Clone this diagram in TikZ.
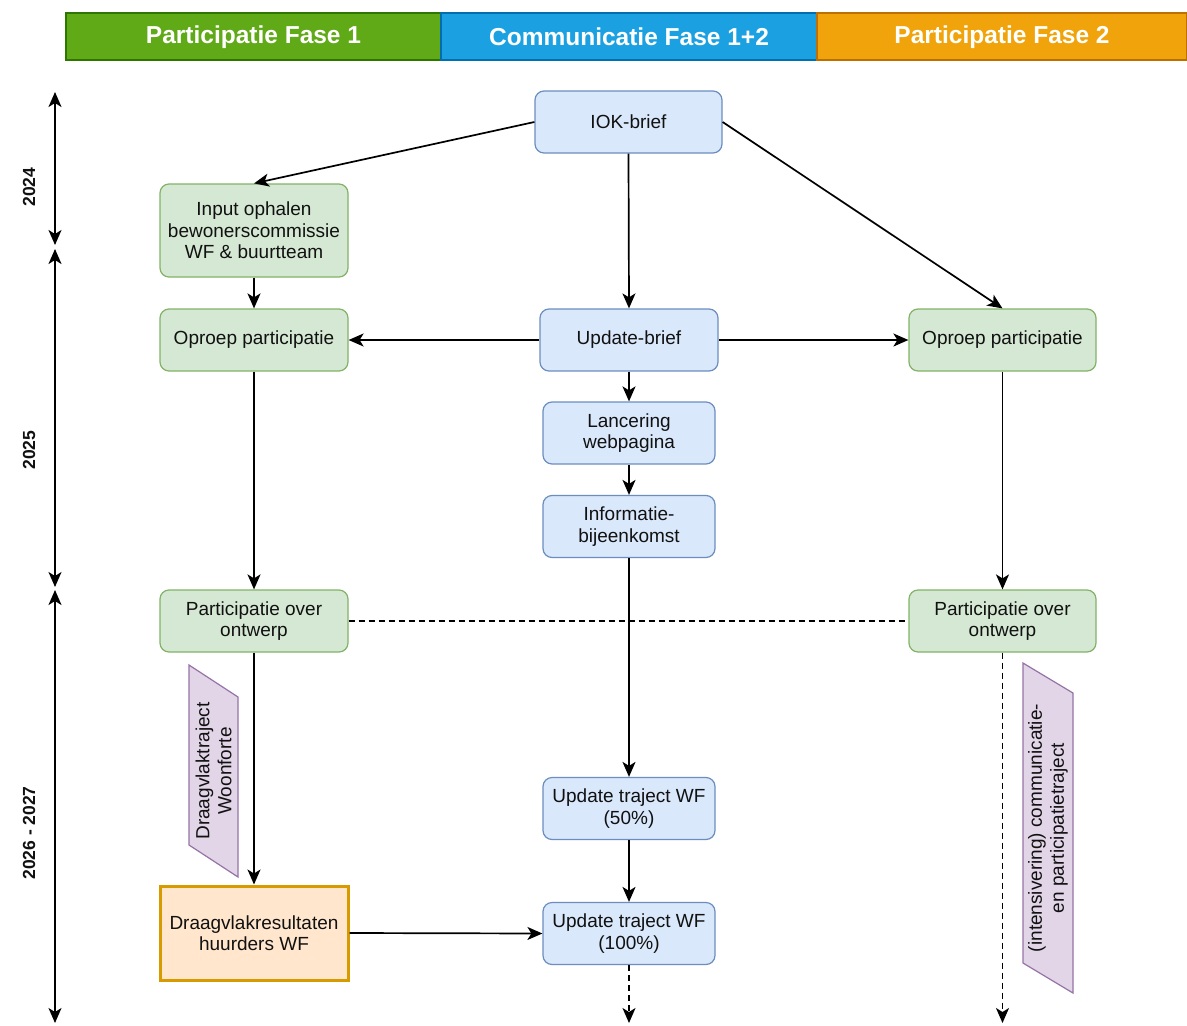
\documentclass[tikz,border=0pt]{standalone}
\usepackage{fontspec}
\setmainfont{Liberation Sans}
\usetikzlibrary{arrows.meta}
\definecolor{bfill}{HTML}{DAE8FC}
\definecolor{bdraw}{HTML}{6C8EBF}
\definecolor{gfill}{HTML}{D5E8D4}
\definecolor{gdraw}{HTML}{82B366}
\definecolor{ofill}{HTML}{FFE6CC}
\definecolor{odraw}{HTML}{D79B00}
\definecolor{pfill}{HTML}{E1D5E7}
\definecolor{pdraw}{HTML}{9673A6}
\definecolor{hgreen}{HTML}{60A917}
\definecolor{hgreenD}{HTML}{2D7600}
\definecolor{hblue}{HTML}{1BA1E2}
\definecolor{hblueD}{HTML}{006EAF}
\definecolor{horange}{HTML}{F0A30A}
\definecolor{horangeD}{HTML}{BD7000}
\definecolor{txt}{HTML}{111111}
\tikzset{
  box/.style={rounded corners=9pt, line width=1.2pt, align=center, inner sep=0pt,
    minimum height=62pt, text=txt, font=\fontsize{19}{21.5}\selectfont},
  bnode/.style={box, fill=bfill, draw=bdraw},
  gnode/.style={box, fill=gfill, draw=gdraw},
  onode/.style={box, rounded corners=0pt, fill=ofill, draw=odraw, line width=3pt},
  ppath/.style={fill=pfill, draw=pdraw, line width=1.2pt},
  ptext/.style={rotate=90, align=center, text=txt, font=\fontsize{19}{22}\selectfont, inner sep=0pt},
  hdr/.style={line width=1.2pt, text=white, font=\fontsize{24.5}{28}\bfseries\selectfont},
  arr/.style={line width=1.7pt, -{Stealth[length=15pt,width=13pt,inset=4pt]}},
  darr/.style={arr, dash pattern=on 6pt off 4pt},
  tl/.style={line width=1.7pt, {Stealth[length=15pt,width=13pt,inset=4pt]}-{Stealth[length=15pt,width=13pt,inset=4pt]}},
  yr/.style={rotate=90, font=\fontsize{17.5}{20}\bfseries\selectfont, text=txt}
}
\begin{document}
\begin{tikzpicture}[x=1pt,y=-1pt]
\useasboundingbox (0,0) rectangle (1187,1026);
\fill[white] (0,0) rectangle (1187,1026);
% header
\draw[hdr, fill=hgreen, draw=hgreenD] (66,13) rectangle (441,60);
\draw[hdr, fill=hblue, draw=hblueD] (441,13) rectangle (817,60);
\draw[hdr, fill=horange, draw=horangeD] (817,13) rectangle (1187,60);
\node[hdr] (h1) at (253.5,37) {Participatie Fase 1};
\node[hdr] (h2) at (629,37) {Communicatie Fase 1+2};
\node[hdr] (h3) at (1002,37) {Participatie Fase 2};
% timeline
\coordinate (t0) at (55,92);
\coordinate (t1) at (55,245);
\coordinate (t2) at (55,249);
\coordinate (t3) at (55,587);
\coordinate (t4) at (55,590);
\coordinate (t5) at (55,1023);
\draw[tl] (t0) -- (t1);
\draw[tl] (t2) -- (t3);
\draw[tl] (t4) -- (t5);
\node[yr] (y1) at (29,187) {2024};
\node[yr] (y2) at (29,450) {2025};
\node[yr] (y3) at (29,833) {2026 - 2027};
% nodes
\node[bnode, minimum width=187pt] (iok) at (628.5,122) {IOK-brief};
\node[gnode, minimum width=188pt, minimum height=93pt] (inp) at (254,230.5) {Input ophalen\\bewonerscommissie\\WF \& buurtteam};
\node[gnode, minimum width=188pt] (opL) at (254,340) {Oproep participatie};
\node[bnode, minimum width=178pt] (ub) at (629,340) {Update-brief};
\node[gnode, minimum width=187pt] (opR) at (1002.5,340) {Oproep participatie};
\node[bnode, minimum width=172pt] (lw) at (629,433) {Lancering\\webpagina};
\node[bnode, minimum width=172pt] (ib) at (629,526.5) {Informatie-\\bijeenkomst};
\node[gnode, minimum width=188pt] (poL) at (254,621) {Participatie over\\ontwerp};
\node[gnode, minimum width=187pt] (poR) at (1002.5,621) {Participatie over\\ontwerp};
\node[bnode, minimum width=172pt] (u50) at (629,808.5) {Update traject WF\\(50\%)};
\node[onode, minimum width=188pt, minimum height=94pt] (dr) at (254,933) {Draagvlakresultaten\\huurders WF};
\node[bnode, minimum width=172pt] (u100) at (629,933.5) {Update traject WF\\(100\%)};
% parallelograms
\draw[ppath] (189,665) -- (238,697) -- (238,877) -- (189,845) -- cycle;
\node[ptext] (pl) at (213.5,771) {Draagvlaktraject\\Woonforte};
\draw[ppath] (1023,663) -- (1073,693) -- (1073,993) -- (1023,963) -- cycle;
\node[ptext] (pr) at (1048,828) {(intensivering) communicatie-\\en participatietraject};
% connectors
\draw[arr] (iok.west) -- (inp.north);
\draw[arr] (iok.east) -- (opR.north);
\draw[arr] (iok.south) -- (ub.north);
\draw[arr] (inp.south) -- (opL.north);
\draw[arr] (ub.west) -- (opL.east);
\draw[arr] (ub.east) -- (opR.west);
\draw[arr] (ub.south) -- (lw.north);
\draw[arr] (lw.south) -- (ib.north);
\draw[arr] (ib.south) -- (u50.north);
\draw[arr] (u50.south) -- (u100.north);
\draw[arr] (opL.south) -- (poL.north);
\draw[arr] (opR.south) -- (poR.north);
\draw[line width=1.7pt, dash pattern=on 6pt off 4pt] (poL.east) -- (poR.west);
\draw[arr] (poL.south) -- (dr.north);
\draw[arr] (dr.east) -- (u100.west);
\coordinate (endM) at (629,1023);
\coordinate (endR) at (1002.5,1023);
\draw[darr] (u100.south) -- (endM);
\draw[darr] (poR.south) -- (endR);
\end{tikzpicture}
\end{document}
